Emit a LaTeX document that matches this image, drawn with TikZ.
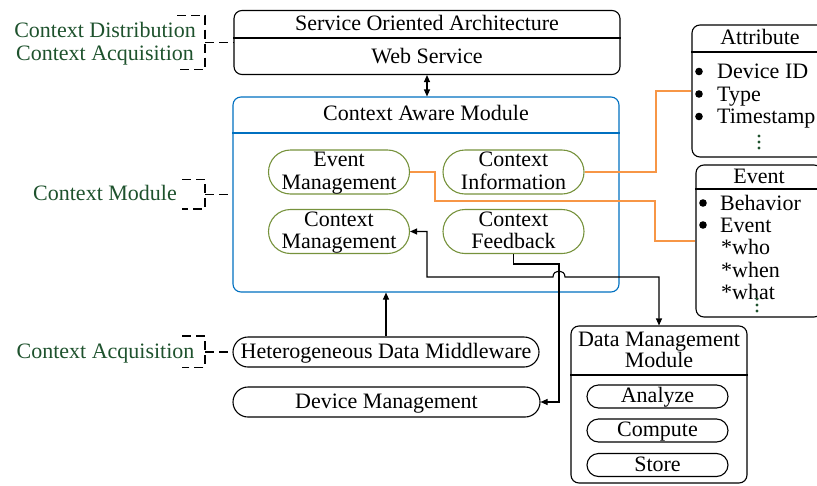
\documentclass[tikz,border=0pt]{standalone}
\usepackage{fontspec}
\setmainfont{Liberation Serif}
\usetikzlibrary{arrows.meta}
\definecolor{lblgreen}{RGB}{30,82,45}
\definecolor{pillgreen}{RGB}{118,146,60}
\definecolor{linkorange}{RGB}{247,150,70}
\definecolor{cablue}{RGB}{0,112,192}
\begin{document}
\begin{tikzpicture}[x=1pt,y=-1pt,
  font=\fontsize{22}{22.5}\selectfont,
  every node/.style={inner sep=0pt},
  box/.style={draw, line width=1.1pt, rounded corners=8pt},
  pilltwo/.style={draw=pillgreen, line width=1.1pt, rounded corners=22pt, minimum width=141pt, minimum height=44pt, align=center, text height=37.5pt, text depth=3.5pt},
  pillone/.style={draw, line width=1.1pt, text height=15pt, text depth=2.4pt},
  lbl/.style={text=lblgreen, anchor=base},
  brk/.style={dash pattern=on 9pt off 5pt, line width=1.1pt},
  conn/.style={line width=1.1pt, >={Triangle[length=7pt,width=6pt]}},
  orangeline/.style={draw=linkorange, line width=1.1pt}
]
\useasboundingbox (0,0) rectangle (817,485);
\clip (0,0) rectangle (817,485);

% Service oriented architecture
\node[box, minimum width=386pt, minimum height=64pt] (soa) at (427,42.5) {};
\draw[line width=1.1pt] (soa.west |- 0,38) -- (soa.east |- 0,38);
\node[anchor=base] (soatitle) at (427,30) {Service Oriented Architecture};
\node[anchor=base] (ws) at (427,63) {Web Service};

% Context aware module
\node[box, draw=cablue, minimum width=386pt, minimum height=195pt] (cam) at (426,194.5) {};
\draw[line width=1.1pt, cablue] (cam.west |- 0,133) -- (cam.east |- 0,133);
\node[anchor=base] (camtitle) at (426,120.5) {Context Aware Module};
\node[pilltwo] (em) at (339,172) {Event\\Management};
\node[pilltwo] (ci) at (513.5,172) {Context\\Information};
\node[pilltwo] (cm) at (339,231.5) {Context\\Management};
\node[pilltwo] (cf) at (513.5,231.5) {Context\\Feedback};

% Middleware and device management
\node[pillone, rounded corners=15pt, minimum width=306pt, minimum height=30pt] (hdm) at (386,352) {Heterogeneous Data Middleware};
\node[pillone, rounded corners=15pt, minimum width=307pt, minimum height=30pt] (dm) at (386.5,402) {Device Management};

% Attribute box
\node[box, minimum width=136pt, minimum height=132pt] (attr) at (760,91) {};
\draw[line width=1.1pt] (attr.west |- 0,52) -- (attr.east |- 0,52);
\node[anchor=base] (attrtitle) at (760,44) {Attribute};
\fill (699,71.5) circle (3.8pt);
\fill (699,94) circle (3.8pt);
\fill (699,116.5) circle (3.8pt);
\node[anchor=base west] (a1) at (717,78.5) {Device ID};
\node[anchor=base west] (a2) at (717,101) {Type};
\node[anchor=base west] (a3) at (717,123.5) {Timestamp};
\fill[lblgreen] (759,136) circle (1.6pt);
\fill[lblgreen] (759,142) circle (1.6pt);
\fill[lblgreen] (759,148) circle (1.6pt);

% Event box
\node[box, minimum width=126pt, minimum height=152pt] (event) at (759,241) {};
\draw[line width=1.1pt] (event.west |- 0,189) -- (event.east |- 0,189);
\node[anchor=base] (evtitle) at (759,183) {Event};
\fill (703,203) circle (3.8pt);
\fill (703,225) circle (3.8pt);
\node[anchor=base west] (e1) at (720,210) {Behavior};
\node[anchor=base west] (e2) at (720,232) {Event};
\node[anchor=base west] (e3) at (721,254) {*who};
\node[anchor=base west] (e4) at (721,277) {*when};
\node[anchor=base west] (e5) at (721,299) {*what};
\fill[lblgreen] (757,299) circle (1.6pt);
\fill[lblgreen] (757,305) circle (1.6pt);
\fill[lblgreen] (757,311) circle (1.6pt);

% Data management module
\node[box, minimum width=176pt, minimum height=157pt] (dmm) at (659,404.5) {};
\draw[line width=1.1pt] (dmm.west |- 0,375) -- (dmm.east |- 0,375);
\node[anchor=base] (dmmt1) at (659,346) {Data Management};
\node[anchor=base] (dmmt2) at (659,367.7) {Module};
\node[pillone, rounded corners=11.5pt, minimum width=141pt, minimum height=23pt] (an) at (657.5,396.5) {Analyze};
\node[pillone, rounded corners=11.5pt, minimum width=141pt, minimum height=23pt] (co) at (657.5,430.5) {Compute};
\node[pillone, rounded corners=11.5pt, minimum width=141pt, minimum height=23pt] (st) at (657.5,465) {Store};

% Left labels
\node[lbl] (l1) at (105,37.5) {Context Distribution};
\node[lbl] (l2) at (105,60) {Context Acquisition};
\node[lbl] (l3) at (105,200) {Context Module};
\node[lbl] (l4) at (105.5,358) {Context Acquisition};

% Brackets
\draw[brk] (177,15.7) -- (205,15.7) -- (205,69.3) -- (177,69.3);
\coordinate (b1) at (205,42.5);
\draw[brk] (b1) -- (soa.west);
\draw[brk] (182,179.3) -- (205,179.3) -- (205,209) -- (182,209);
\coordinate (b2) at (205,194.5);
\draw[brk] (b2) -- (cam.west);
\draw[brk] (182,336) -- (205,336) -- (205,367.3) -- (182,367.3);
\coordinate (b3) at (205,352);
\draw[brk] (b3) -- (hdm.west);

% Orange links
\draw[orangeline] (ci.east) -- (656,172) |- (attr.west);
\draw[orangeline] (em.east) -- (435,172) -- (435,201) -- (655,201) |- (event.west);

% Black connectors
\draw[conn, <->] (soa.south) -- (soa.south |- cam.north);
\draw[conn, ->] (hdm.north) -- (hdm.north |- cam.south);
\draw[conn, ->] (cf.south) -- (513.5,264) -- (559,264) |- (dm.east);
\draw[conn, <->] (cm.east) -| (427,277) -- (553,277) .. controls (553,269) and (565,269) .. (565,277) -- (659,277) -- (dmm.north);
\end{tikzpicture}
\end{document}
